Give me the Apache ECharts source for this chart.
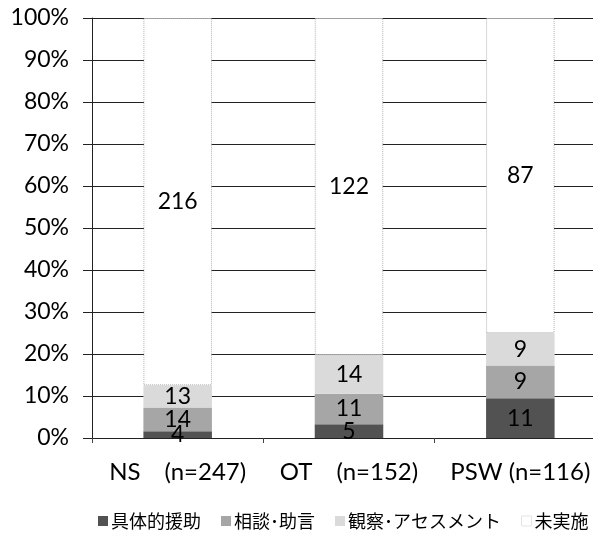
<!DOCTYPE html>
<html>
<head>
<meta charset="utf-8">
<script src="https://cdn.jsdelivr.net/npm/echarts@6/dist/echarts.min.js"></script>
<style>
html, body { margin: 0; padding: 0; background: #fff; }
#chart { width: 593px; height: 539px; }
</style>
</head>
<body>
<div id="chart"></div>
<script>
// Respondents per profession and how each group answered
const categories = ['NS\u3000(n=247)', 'OT\u3000(n=152)', 'PSW (n=116)'];
const totals = [247, 152, 116];
const seriesNames = ['具体的援助', '相談･助言', '観察･アセスメント', '未実施'];
const concreteSupport = [4, 5, 11];
const consultation = [14, 11, 9];
const observation = [13, 14, 9];
const notDone = [216, 122, 87];
const yTicks = [0, 10, 20, 30, 40, 50, 60, 70, 80, 90, 100];

const counts = [concreteSupport, consultation, observation, notDone];
const colors = ['#525252', '#a6a6a6', '#dadada', '#ffffff'];
const latin = "Lato, 'Noto Sans CJK JP', sans-serif";
const cjk = "'Noto Sans CJK JP', sans-serif";

const series = seriesNames.map((name, s) => ({
  name: name,
  type: 'bar',
  stack: 'share',
  barWidth: '40%',
  data: counts[s].map((c, i) => ({ value: c / totals[i] * 100, count: c })),
  itemStyle: s === 3
    ? { color: '#ffffff', borderColor: '#b0b0b0', borderWidth: 1, borderType: 'dotted' }
    : { color: colors[s] },
  label: {
    show: true,
    position: 'inside',
    color: '#000',
    fontFamily: latin,
    fontSize: 23,
    formatter: p => String(p.data.count)
  }
}));

const chart = echarts.init(document.getElementById('chart'));
chart.setOption({
  animation: false,
  backgroundColor: '#fff',
  grid: { left: 92, top: 18, width: 514, bottom: 101, containLabel: false, outerBoundsMode: 'none' },
  legend: {
    left: 98,
    top: 512,
    width: 495,
    padding: 0,
    itemWidth: 10,
    itemHeight: 10,
    itemGap: 20,
    icon: 'rect',
    data: seriesNames.map((n, s) => ({
      name: n,
      itemStyle: s === 3 ? { color: '#fff', borderColor: '#e4e4e4', borderWidth: 1 } : { color: colors[s] }
    })),
    textStyle: { fontFamily: cjk, fontSize: 18, color: '#000', padding: [0, 0, 0, -2] }
  },
  xAxis: {
    type: 'category',
    data: categories,
    axisLine: { lineStyle: { color: '#222', width: 1 } },
    axisTick: { show: true, length: 5, lineStyle: { color: '#444' } },
    axisLabel: { interval: 0, fontFamily: latin, fontSize: 24, color: '#000', margin: 22 }
  },
  yAxis: {
    type: 'value',
    min: yTicks[0],
    max: yTicks[yTicks.length - 1],
    interval: 10,
    axisLine: { show: true, lineStyle: { color: '#222', width: 1 } },
    axisTick: { show: true, length: 9, lineStyle: { color: '#222' } },
    splitLine: { lineStyle: { color: '#222', width: 1 } },
    axisLabel: { fontFamily: latin, fontSize: 23, color: '#000', margin: 23, formatter: '{value}%' }
  },
  series: series
});
</script>
</body>
</html>
